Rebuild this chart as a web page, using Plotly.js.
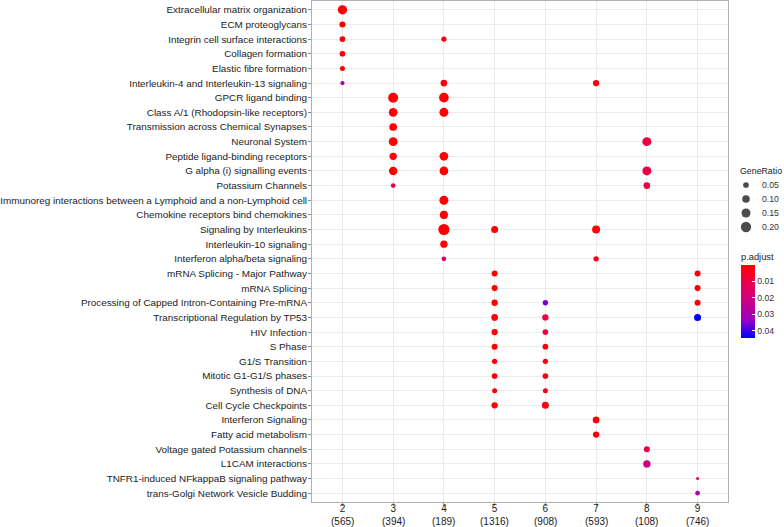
<!DOCTYPE html>
<html>
<head>
<meta charset="utf-8">
<script src="https://cdn.plot.ly/plotly-3.0.1.min.js"></script>
<style>html,body{margin:0;padding:0;background:#fff;}#chart{width:784px;height:527px;}</style>
</head>
<body>
<div id="chart"></div>
<script>
// ---- data ----
var clusters = ["2", "3", "4", "5", "6", "7", "8", "9"];
var clusterCounts = [565, 394, 189, 1316, 908, 593, 108, 746];

var terms = [
  "Extracellular matrix organization",
  "ECM proteoglycans",
  "Integrin cell surface interactions",
  "Collagen formation",
  "Elastic fibre formation",
  "Interleukin-4 and Interleukin-13 signaling",
  "GPCR ligand binding",
  "Class A/1 (Rhodopsin-like receptors)",
  "Transmission across Chemical Synapses",
  "Neuronal System",
  "Peptide ligand-binding receptors",
  "G alpha (i) signalling events",
  "Potassium Channels",
  "Immunoreg interactions between a Lymphoid and a non-Lymphoid cell",
  "Chemokine receptors bind chemokines",
  "Signaling by Interleukins",
  "Interleukin-10 signaling",
  "Interferon alpha/beta signaling",
  "mRNA Splicing - Major Pathway",
  "mRNA Splicing",
  "Processing of Capped Intron-Containing Pre-mRNA",
  "Transcriptional Regulation by TP53",
  "HIV Infection",
  "S Phase",
  "G1/S Transition",
  "Mitotic G1-G1/S phases",
  "Synthesis of DNA",
  "Cell Cycle Checkpoints",
  "Interferon Signaling",
  "Fatty acid metabolism",
  "Voltage gated Potassium channels",
  "L1CAM interactions",
  "TNFR1-induced NFkappaB signaling pathway",
  "trans-Golgi Network Vesicle Budding"
];

var pointCluster = [
  "2","2","2","2","2","2",
  "3","3","3","3","3","3","3",
  "4","4","4","4","4","4","4","4","4","4","4",
  "5","5","5","5","5","5","5","5","5","5","5",
  "6","6","6","6","6","6","6","6",
  "7","7","7","7","7",
  "8","8","8","8","8",
  "9","9","9","9","9","9"
];
var pointTerm = [
  "Extracellular matrix organization","ECM proteoglycans","Integrin cell surface interactions","Collagen formation","Elastic fibre formation","Interleukin-4 and Interleukin-13 signaling",
  "GPCR ligand binding","Class A/1 (Rhodopsin-like receptors)","Transmission across Chemical Synapses","Neuronal System","Peptide ligand-binding receptors","G alpha (i) signalling events","Potassium Channels",
  "Integrin cell surface interactions","Interleukin-4 and Interleukin-13 signaling","GPCR ligand binding","Class A/1 (Rhodopsin-like receptors)","Peptide ligand-binding receptors","G alpha (i) signalling events","Immunoreg interactions between a Lymphoid and a non-Lymphoid cell","Chemokine receptors bind chemokines","Signaling by Interleukins","Interleukin-10 signaling","Interferon alpha/beta signaling",
  "Signaling by Interleukins","mRNA Splicing - Major Pathway","mRNA Splicing","Processing of Capped Intron-Containing Pre-mRNA","Transcriptional Regulation by TP53","HIV Infection","S Phase","G1/S Transition","Mitotic G1-G1/S phases","Synthesis of DNA","Cell Cycle Checkpoints",
  "Processing of Capped Intron-Containing Pre-mRNA","Transcriptional Regulation by TP53","HIV Infection","S Phase","G1/S Transition","Mitotic G1-G1/S phases","Synthesis of DNA","Cell Cycle Checkpoints",
  "Interleukin-4 and Interleukin-13 signaling","Signaling by Interleukins","Interferon alpha/beta signaling","Interferon Signaling","Fatty acid metabolism",
  "Neuronal System","G alpha (i) signalling events","Potassium Channels","Voltage gated Potassium channels","L1CAM interactions",
  "mRNA Splicing - Major Pathway","mRNA Splicing","Processing of Capped Intron-Containing Pre-mRNA","Transcriptional Regulation by TP53","TNFR1-induced NFkappaB signaling pathway","trans-Golgi Network Vesicle Budding"
];
var geneRatio = [
  0.160, 0.057, 0.050, 0.050, 0.036, 0.024,
  0.187, 0.137, 0.103, 0.140, 0.091, 0.125, 0.031,
  0.042, 0.074, 0.175, 0.147, 0.137, 0.137, 0.147, 0.113, 0.235, 0.091, 0.030,
  0.082, 0.057, 0.057, 0.064, 0.074, 0.064, 0.057, 0.042, 0.050, 0.036, 0.064,
  0.042, 0.064, 0.050, 0.050, 0.042, 0.050, 0.036, 0.082,
  0.064, 0.113, 0.042, 0.074, 0.064,
  0.147, 0.147, 0.074, 0.057, 0.091,
  0.057, 0.057, 0.057, 0.082, 0.0085, 0.031
];
var pAdjust = [
  0.00001, 0.0005, 0.0008, 0.0006, 0.001, 0.030,
  0.00001, 0.00001, 0.0002, 0.00005, 0.0003, 0.0001, 0.010,
  0.002, 0.002, 0.00001, 0.00001, 0.00001, 0.00001, 0.00001, 0.00001, 0.0000001, 0.0001, 0.016,
  0.001, 0.0003, 0.0003, 0.0003, 0.0005, 0.001, 0.0005, 0.001, 0.001, 0.001, 0.0005,
  0.036, 0.009, 0.008, 0.002, 0.002, 0.002, 0.003, 0.001,
  0.002, 0.0005, 0.003, 0.001, 0.001,
  0.009, 0.009, 0.009, 0.011, 0.022,
  0.001, 0.001, 0.001, 0.0445, 0.008, 0.028
];
var sizeBreaks = [0.05, 0.10, 0.15, 0.20];
var colorTicks = [0.01, 0.02, 0.03, 0.04];

// ---- styling helpers ----
function dia(g) { return 1.1 + 20.57 * Math.sqrt(g); } // area-style size scale
// colour value is negated so the colour bar shows small p.adjust (red) at the top
var cscale = [[0, "#0000FF"], [0.25, "#9A00C2"], [0.5, "#CA0088"], [0.75, "#E80050"], [1, "#FF0000"]];
var pmin = Math.min.apply(null, pAdjust), pmax = Math.max.apply(null, pAdjust);
var font = "Liberation Sans, Arial, Helvetica, sans-serif";

var main = {
  type: "scatter", mode: "markers",
  x: pointCluster, y: pointTerm,
  xaxis: "x", yaxis: "y",
  marker: {
    size: geneRatio.map(dia), sizemode: "diameter",
    color: pAdjust.map(function (p) { return -p; }), colorscale: cscale, cmin: -pmax, cmax: -pmin,
    line: {width: 0}, opacity: 1,
    colorbar: {
      x: 0.9089, xanchor: "left", xpad: 0, ypad: 0,
      y: 0.3273, yanchor: "bottom",
      len: 88, lenmode: "pixels", thickness: 14,
      outlinewidth: 0,
      tickvals: colorTicks.map(function (v) { return -v; }),
      ticktext: colorTicks.map(function (v) { return v.toFixed(2); }),
      ticks: "inside", ticklen: 3, tickcolor: "#ffffff", tickwidth: 1,
      tickfont: {family: font, size: 8.7, color: "#333333"},
      title: {text: "p.adjust", side: "top", font: {family: font, size: 9.3, color: "#222222"}}
    }
  },
  showlegend: false, hoverinfo: "skip"
};

var legendDots = {
  type: "scatter", mode: "markers",
  x: sizeBreaks.map(function () { return 0.321; }),
  y: sizeBreaks.map(function (v, i) { return i; }),
  xaxis: "x2", yaxis: "y2",
  marker: {size: sizeBreaks.map(dia), sizemode: "diameter", color: "#000000", line: {width: 0}},
  showlegend: false, hoverinfo: "skip", cliponaxis: false
};

var annotations = sizeBreaks.map(function (v, i) {
  return {xref: "x2", yref: "y2", x: 0.571, y: i, text: v.toFixed(2), showarrow: false,
          xanchor: "left", yanchor: "middle", font: {family: font, size: 8.7, color: "#333333"}};
});
annotations.push({xref: "x2", yref: "y2", x: 0.589, y: -1, text: "GeneRatio", showarrow: false,
  xanchor: "center", yanchor: "middle", font: {family: font, size: 8.8, color: "#222222"}});
// second line of x tick labels: gene counts per cluster
clusters.forEach(function (c, i) {
  annotations.push({xref: "x", yref: "paper", x: i, y: -0.0389, text: "(" + clusterCounts[i] + ")",
    showarrow: false, xanchor: "center", yanchor: "middle",
    font: {family: font, size: 10, color: "#1a1a1a"}});
});

var layout = {
  width: 784, height: 527,
  margin: {l: 312, r: 0, t: 1, b: 25},
  paper_bgcolor: "#ffffff", plot_bgcolor: "#ffffff",
  font: {family: font},
  hovermode: false,
  xaxis: {
    domain: [0, 0.8814], type: "category",
    categoryorder: "array", categoryarray: clusters,
    range: [-0.6, clusters.length - 0.4],
    tickfont: {family: font, size: 10, color: "#1a1a1a"},
    showgrid: true, gridcolor: "#EBEBEB", gridwidth: 1,
    showline: true, linecolor: "#B0B0B0", linewidth: 1, mirror: true,
    ticks: "outside", ticklen: 3, tickcolor: "#888888", tickwidth: 1,
    ticklabelstandoff: -6,
    zeroline: false, fixedrange: true, automargin: false
  },
  yaxis: {
    type: "category", categoryorder: "array", categoryarray: terms,
    range: [terms.length - 0.4, -0.6],
    tickfont: {family: font, size: 9.9, color: "#1a1a1a"},
    showgrid: true, gridcolor: "#EBEBEB", gridwidth: 1,
    showline: true, linecolor: "#B0B0B0", linewidth: 1, mirror: true,
    ticks: "outside", ticklen: 3, tickcolor: "#888888", tickwidth: 1,
    ticklabelstandoff: -1,
    zeroline: false, fixedrange: true, automargin: false
  },
  xaxis2: {domain: [0.8814, 1], range: [0, 1], visible: false, anchor: "y2", fixedrange: true},
  yaxis2: {domain: [0.5349, 0.6747], range: [3.5, -1.5], visible: false, anchor: "x2", fixedrange: true},
  annotations: annotations
};

Plotly.newPlot("chart", [main, legendDots], layout, {displayModeBar: false, staticPlot: true});
</script>
</body>
</html>
